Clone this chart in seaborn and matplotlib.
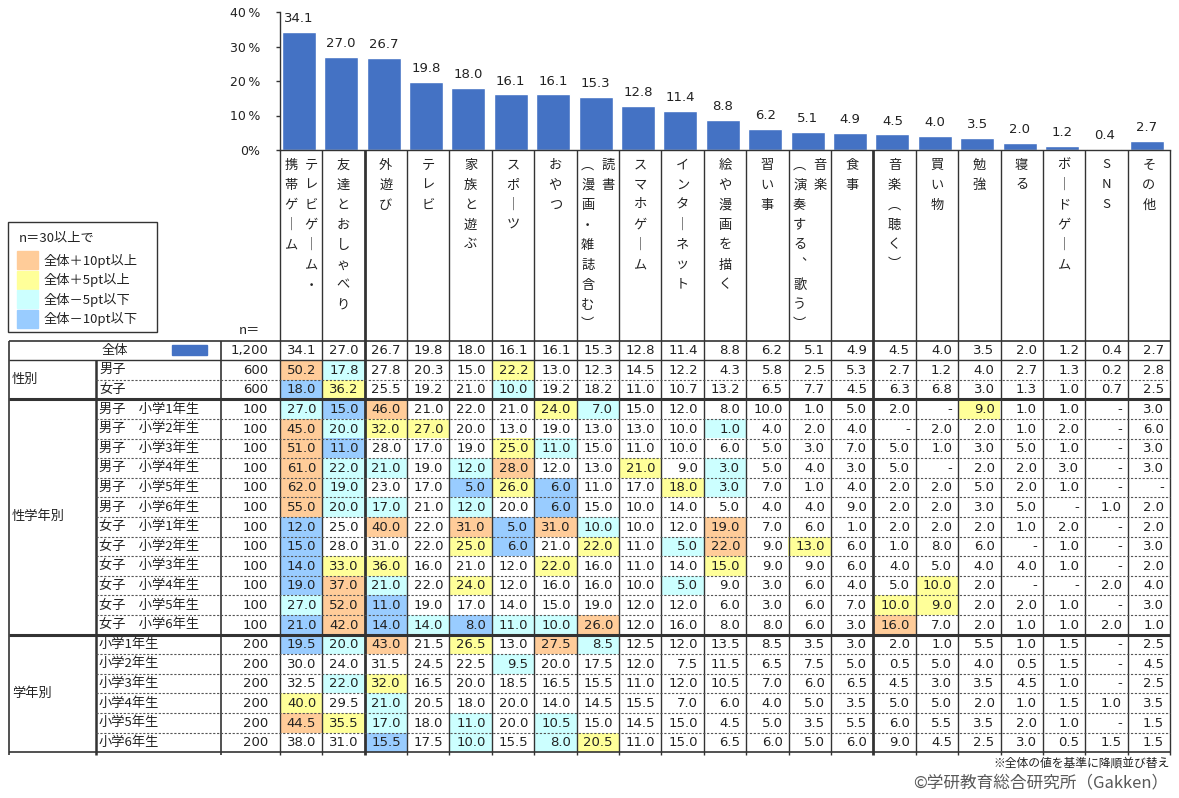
import numpy as np
import matplotlib
matplotlib.use("Agg")
import matplotlib.pyplot as plt
import seaborn as sns
from matplotlib.colors import ListedColormap
from matplotlib.patches import Rectangle

# ── DATA ──
category_lines = [
    ["テレビゲーム・", "携帯ゲーム"], ["友達とおしゃべり"], ["外遊び"], ["テレビ"],
    ["家族と遊ぶ"], ["スポーツ"], ["おやつ"], ["読書", "（漫画・雑誌含む）"],
    ["スマホゲーム"], ["インターネット"], ["絵や漫画を描く"], ["習い事"],
    ["音楽", "（演奏する、歌う）"], ["食事"], ["音楽（聴く）"], ["買い物"],
    ["勉強"], ["寝る"], ["ボードゲーム"], ["SNS"], ["その他"],
]
categories = ["".join(c) for c in category_lines]

overall = [34.1, 27.0, 26.7, 19.8, 18.0, 16.1, 16.1, 15.3, 12.8, 11.4, 8.8,
           6.2, 5.1, 4.9, 4.5, 4.0, 3.5, 2.0, 1.2, 0.4, 2.7]

by_sex = [
    [50.2, 17.8, 27.8, 20.3, 15.0, 22.2, 13.0, 12.3, 14.5, 12.2, 4.3, 5.8, 2.5, 5.3, 2.7, 1.2, 4.0, 2.7, 1.3, 0.2, 2.8],
    [18.0, 36.2, 25.5, 19.2, 21.0, 10.0, 19.2, 18.2, 11.0, 10.7, 13.2, 6.5, 7.7, 4.5, 6.3, 6.8, 3.0, 1.3, 1.0, 0.7, 2.5],
]

by_sex_grade = [
    [27.0, 15.0, 46.0, 21.0, 22.0, 21.0, 24.0, 7.0, 15.0, 12.0, 8.0, 10.0, 1.0, 5.0, 2.0, None, 9.0, 1.0, 1.0, None, 3.0],
    [45.0, 20.0, 32.0, 27.0, 20.0, 13.0, 19.0, 13.0, 13.0, 10.0, 1.0, 4.0, 2.0, 4.0, None, 2.0, 2.0, 1.0, 2.0, None, 6.0],
    [51.0, 11.0, 28.0, 17.0, 19.0, 25.0, 11.0, 15.0, 11.0, 10.0, 6.0, 5.0, 3.0, 7.0, 5.0, 1.0, 3.0, 5.0, 1.0, None, 3.0],
    [61.0, 22.0, 21.0, 19.0, 12.0, 28.0, 12.0, 13.0, 21.0, 9.0, 3.0, 5.0, 4.0, 3.0, 5.0, None, 2.0, 2.0, 3.0, None, 3.0],
    [62.0, 19.0, 23.0, 17.0, 5.0, 26.0, 6.0, 11.0, 17.0, 18.0, 3.0, 7.0, 1.0, 4.0, 2.0, 2.0, 5.0, 2.0, 1.0, None, None],
    [55.0, 20.0, 17.0, 21.0, 12.0, 20.0, 6.0, 15.0, 10.0, 14.0, 5.0, 4.0, 4.0, 9.0, 2.0, 2.0, 3.0, 5.0, None, 1.0, 2.0],
    [12.0, 25.0, 40.0, 22.0, 31.0, 5.0, 31.0, 10.0, 10.0, 12.0, 19.0, 7.0, 6.0, 1.0, 2.0, 2.0, 2.0, 1.0, 2.0, None, 2.0],
    [15.0, 28.0, 31.0, 22.0, 25.0, 6.0, 21.0, 22.0, 11.0, 5.0, 22.0, 9.0, 13.0, 6.0, 1.0, 8.0, 6.0, None, 1.0, None, 3.0],
    [14.0, 33.0, 36.0, 16.0, 21.0, 12.0, 22.0, 16.0, 11.0, 14.0, 15.0, 9.0, 9.0, 6.0, 4.0, 5.0, 4.0, 4.0, 1.0, None, 2.0],
    [19.0, 37.0, 21.0, 22.0, 24.0, 12.0, 16.0, 16.0, 10.0, 5.0, 9.0, 3.0, 6.0, 4.0, 5.0, 10.0, 2.0, None, None, 2.0, 4.0],
    [27.0, 52.0, 11.0, 19.0, 17.0, 14.0, 15.0, 19.0, 12.0, 12.0, 6.0, 3.0, 6.0, 7.0, 10.0, 9.0, 2.0, 2.0, 1.0, None, 3.0],
    [21.0, 42.0, 14.0, 14.0, 8.0, 11.0, 10.0, 26.0, 12.0, 16.0, 8.0, 8.0, 6.0, 3.0, 16.0, 7.0, 2.0, 1.0, 1.0, 2.0, 1.0],
]

by_grade = [
    [19.5, 20.0, 43.0, 21.5, 26.5, 13.0, 27.5, 8.5, 12.5, 12.0, 13.5, 8.5, 3.5, 3.0, 2.0, 1.0, 5.5, 1.0, 1.5, None, 2.5],
    [30.0, 24.0, 31.5, 24.5, 22.5, 9.5, 20.0, 17.5, 12.0, 7.5, 11.5, 6.5, 7.5, 5.0, 0.5, 5.0, 4.0, 0.5, 1.5, None, 4.5],
    [32.5, 22.0, 32.0, 16.5, 20.0, 18.5, 16.5, 15.5, 11.0, 12.0, 10.5, 7.0, 6.0, 6.5, 4.5, 3.0, 3.5, 4.5, 1.0, None, 2.5],
    [40.0, 29.5, 21.0, 20.5, 18.0, 20.0, 14.0, 14.5, 15.5, 7.0, 6.0, 4.0, 5.0, 3.5, 5.0, 5.0, 2.0, 1.0, 1.5, 1.0, 3.5],
    [44.5, 35.5, 17.0, 18.0, 11.0, 20.0, 10.5, 15.0, 14.5, 15.0, 4.5, 5.0, 3.5, 5.5, 6.0, 5.5, 3.5, 2.0, 1.0, None, 1.5],
    [38.0, 31.0, 15.5, 17.5, 10.0, 15.5, 8.0, 20.5, 11.0, 15.0, 6.5, 6.0, 5.0, 6.0, 9.0, 4.5, 2.5, 3.0, 0.5, 1.5, 1.5],
]

row_labels = (
    ["全体", "男子", "女子"]
    + [f"{s}　小学{g}年生" for s in ["男子", "女子"] for g in range(1, 7)]
    + [f"小学{g}年生" for g in range(1, 7)]
)
n_values = [1200, 600, 600] + [100] * 12 + [200] * 6
group_labels = [("性別", 1, 3), ("性学年別", 3, 15), ("学年別", 15, 21)]

legend_title = "n＝30以上で"
legend_labels = ["全体＋10pt以上", "全体＋5pt以上", "全体－5pt以下", "全体－10pt以下"]
ytick_values = [0, 10, 20, 30, 40]
ytick_labels = ["0%", "10\u2009%", "20\u2009%", "30\u2009%", "40\u2009%"]

# ── STYLE ──
BAR_COLOR = "#4472C4"
FILL_COLORS = ["#FFFFFF", "#FFCC99", "#FFFF99", "#CCFFFF", "#99CCFF"]
LINE = "#333333"
TXT = "#222222"
NUM_FONT = ["DejaVu Sans", "Noto Sans CJK JP"]

sns.set_style("white")
plt.rcParams["font.family"] = ["Noto Sans CJK JP", "DejaVu Sans"]

# ── GEOMETRY (pixels) ──
W, H = 1179, 798
X_LEFT, X_GROUP, X_LABEL, X_N = 9, 96, 221, 279.7
COL_W = 42.4
N_COLS = len(categories)
X_RIGHT = X_N + N_COLS * COL_W
Y_TOP, ROW_H = 340.5, 19.6
N_ROWS = len(row_labels)
Y_BOTTOM = Y_TOP + N_ROWS * ROW_H
Y_AX_TOP, Y_AX0 = 12, 150


def px_rect(x0, y0, x1, y1):
    return [x0 / W, 1 - y1 / H, (x1 - x0) / W, (y1 - y0) / H]


fig = plt.figure(figsize=(W / 100, H / 100), dpi=100)

# ── BAR CHART ──
axb = fig.add_axes(px_rect(X_N, Y_AX_TOP, X_RIGHT, Y_AX0))
sns.barplot(x=categories, y=overall, order=categories, color=BAR_COLOR,
            width=0.8, saturation=1, ax=axb)
axb.set_xlim(-0.45, N_COLS - 0.45)
axb.set_ylim(0, 40)
axb.set_xticks([])
axb.set_yticks(ytick_values)
axb.set_yticklabels(ytick_labels, family=NUM_FONT, fontsize=9, color=TXT)
axb.tick_params(axis="y", direction="out", length=3, width=1, pad=11, color=LINE, left=True)
axb.set_xlabel("")
axb.set_ylabel("")
for side in ["top", "right"]:
    axb.spines[side].set_visible(False)
for side in ["left", "bottom"]:
    axb.spines[side].set_color(LINE)
    axb.spines[side].set_linewidth(1)
axb.bar_label(axb.containers[0], labels=[f"{v:.1f}" for v in overall],
              padding=5, fontsize=9.5, color=TXT, family=NUM_FONT)

# ── TABLE CELLS ──
rows = [overall] + by_sex + by_sex_grade + by_grade
vals = np.array([[np.nan if v is None else v for v in r] for r in rows], dtype=float)
diff = np.round(vals - vals[0], 1)
codes = np.select([diff >= 10, diff >= 5, diff <= -10, diff <= -5], [1, 2, 4, 3], 0)

axh = fig.add_axes(px_rect(X_N, Y_TOP, X_RIGHT, Y_BOTTOM))
sns.heatmap(codes, cmap=ListedColormap(FILL_COLORS), vmin=-0.5, vmax=4.5,
            cbar=False, xticklabels=False, yticklabels=False, ax=axh)
axh.tick_params(length=0)
for i in range(N_ROWS):
    for j in range(N_COLS):
        v = vals[i, j]
        s = "-" if np.isnan(v) else f"{v:.1f}"
        axh.text(j + 0.86, i + 0.52, s, ha="right", va="center",
                 fontsize=9.5, color=TXT, family=NUM_FONT)

# ── OVERLAY: lines, labels ──
ax0 = fig.add_axes([0, 0, 1, 1])
ax0.set_xlim(0, W)
ax0.set_ylim(H, 0)
ax0.axis("off")
ax0.set_zorder(10)


def row_y(i):
    return Y_TOP + i * ROW_H


col_x = [X_N + k * COL_W for k in range(N_COLS + 1)]
thick_cols = {2, 14}

# vertical column lines (header + body)
for k, x in enumerate(col_x):
    lw = 2 if k in thick_cols else 1
    ax0.vlines(x, Y_AX0, Y_BOTTOM + 3, colors=LINE, linewidth=lw)
ax0.vlines(X_LEFT, Y_TOP, Y_BOTTOM + 3, colors=LINE, linewidth=1.2)
ax0.vlines(X_GROUP, row_y(1), Y_BOTTOM + 3, colors=LINE, linewidth=1.8)
ax0.vlines(X_LABEL, Y_TOP, Y_BOTTOM + 3, colors=LINE, linewidth=1.2)

# horizontal lines
ax0.hlines(row_y(0), X_LEFT, X_RIGHT, colors=LINE, linewidth=1.2)
ax0.hlines(row_y(1), X_LEFT, X_RIGHT, colors=LINE, linewidth=1)
for _, start, end in group_labels:
    for i in range(start + 1, end):
        ax0.hlines(row_y(i), X_GROUP, X_RIGHT, colors="#555555",
                   linewidth=0.8, linestyles=(0, (2, 1.5)))
    lw = 1.2 if end == N_ROWS else 2.2
    ax0.hlines(row_y(end), X_LEFT, X_RIGHT, colors=LINE, linewidth=lw)

# row labels, group labels, n values
ax0.text(115, row_y(0.5), row_labels[0], ha="center",
         va="center", fontsize=9.5, color=TXT)
ax0.add_patch(Rectangle((172, row_y(0) + 4), 35, 10, color=BAR_COLOR))
for i in range(1, N_ROWS):
    ax0.text(X_GROUP + 3, row_y(i + 0.5), row_labels[i], ha="left",
             va="center", fontsize=9.5, color=TXT)
for name, start, end in group_labels:
    ax0.text(X_LEFT + 3, (row_y(start) + row_y(end)) / 2, name, ha="left",
             va="center", fontsize=9.5, color=TXT)
for i, n in enumerate(n_values):
    ax0.text(268, row_y(i + 0.52), f"{n:,}", ha="right", va="center",
             fontsize=9.5, color=TXT, family=NUM_FONT)
ax0.text(249, 331, "n＝", ha="center", va="center", fontsize=9.5, color=TXT)

# vertical category labels
VERT = str.maketrans({"ー": "｜", "（": "︵", "）": "︶", "、": "︑"})
for k, lines in enumerate(category_lines):
    cx = X_N + (k + 0.5) * COL_W
    offsets = [0] if len(lines) == 1 else [10, -10]
    for line, dx in zip(lines, offsets):
        for m, ch in enumerate(line.translate(VERT)):
            ax0.text(cx + dx, 165 + m * 20, ch, ha="center", va="center",
                     fontsize=9.5, color=TXT)

# legend box
ax0.add_patch(Rectangle((8.3, 222.3), 148.4, 110, facecolor="white",
                        edgecolor=LINE, linewidth=1))
ax0.text(19, 238, legend_title, ha="left", va="center", fontsize=9.5, color=TXT)
for idx, lab in enumerate(legend_labels):
    y0 = 251 + idx * 19.5
    ax0.add_patch(Rectangle((17.3, y0), 20.4, 18.3, color=FILL_COLORS[idx + 1]))
    ax0.text(44, y0 + 9.5, lab, ha="left", va="center", fontsize=9.5, color=TXT)

# footnotes
ax0.text(X_RIGHT, 763, "※全体の値を基準に降順並び替え", ha="right", va="center",
         fontsize=8.5, color=TXT)
ax0.text(X_RIGHT - 2, 783, "©学研教育総合研究所（Gakken）", ha="right", va="center",
         fontsize=12, color="#595959")

fig.savefig("out.png", dpi=100)
plt.close(fig)
